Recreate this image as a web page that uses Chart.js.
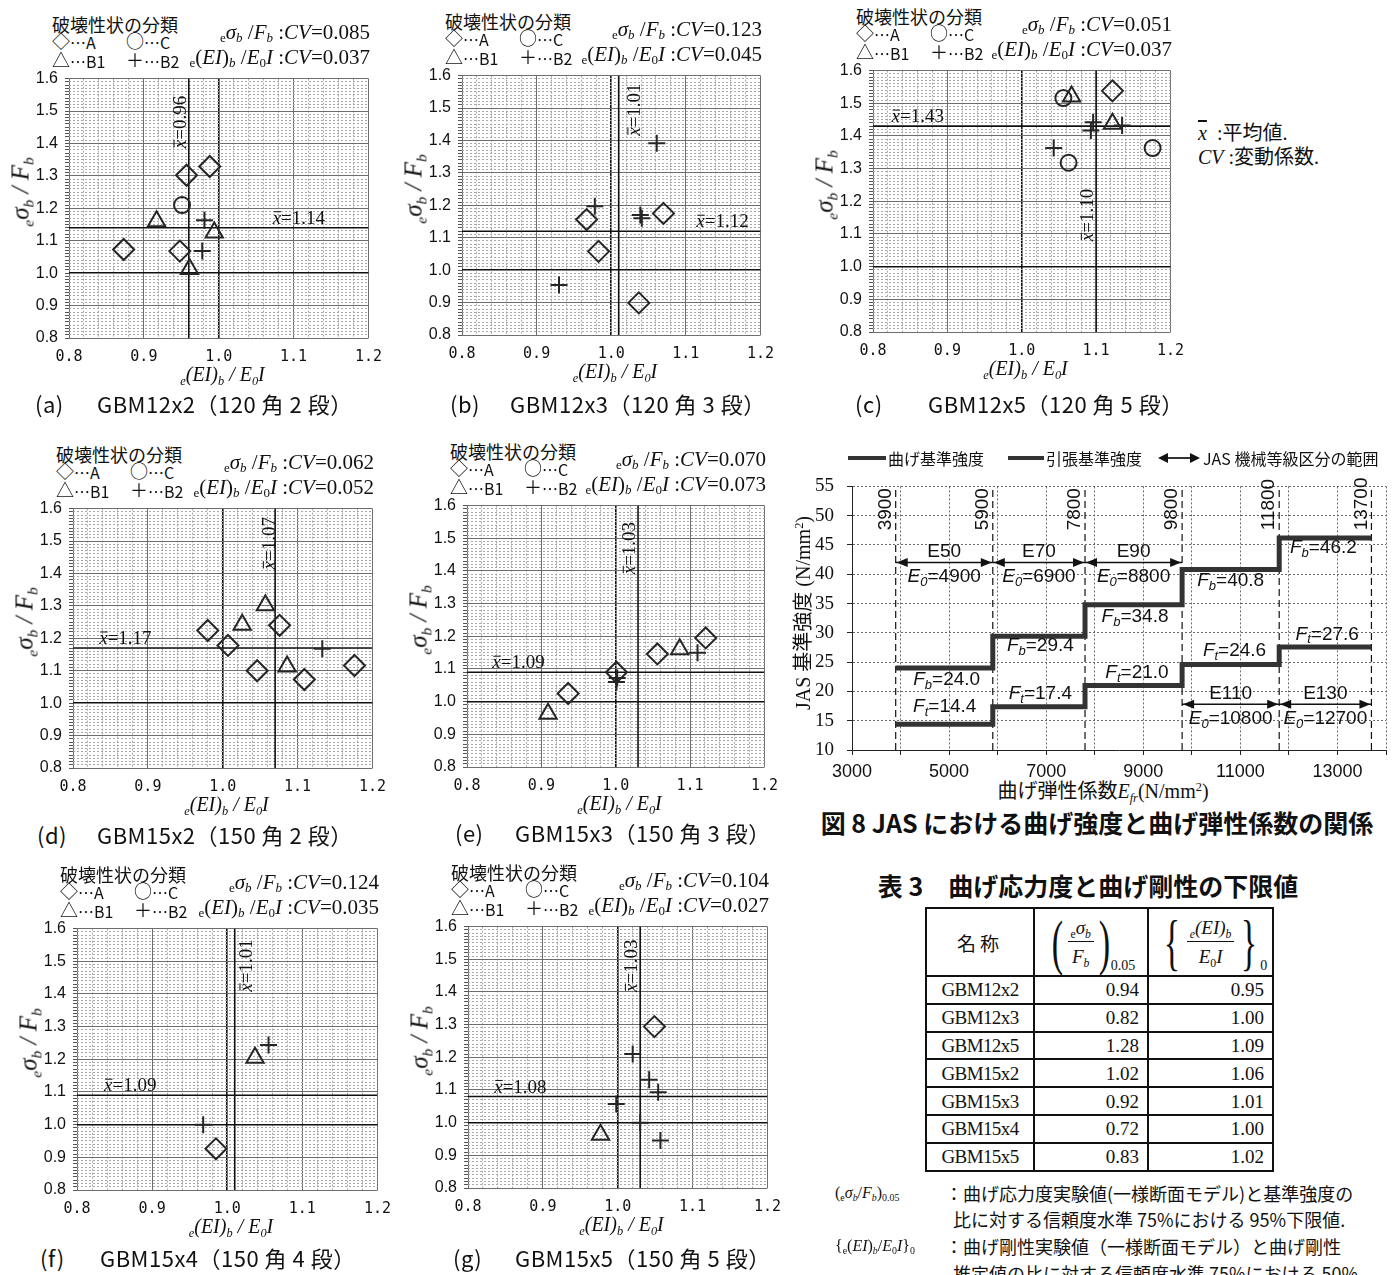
<!DOCTYPE html>
<html lang="ja"><head><meta charset="utf-8">
<title>GBM bending strength / stiffness</title>
<script src="https://cdn.jsdelivr.net/npm/chart.js@4.4.1/dist/chart.umd.min.js"></script>
<style>
html,body{margin:0;padding:0;background:#fff}
body{width:1395px;height:1275px;position:relative;overflow:hidden;color:#111;font-family:"Noto Sans CJK JP","Noto Sans",sans-serif}
.abs{position:absolute;white-space:nowrap;line-height:1}
canvas{position:absolute}
sub{font-size:62%;vertical-align:-0.3em;line-height:0}
sup{font-size:62%;vertical-align:0.55em;line-height:0}
.hdr{font-size:18px}
.leg{font-size:16px}
.leg .sym{font-size:18px;vertical-align:1px}
.cv{font-family:"Liberation Serif","Times New Roman",serif;font-size:21px}
.ytitle{font-family:"Liberation Serif","Times New Roman",serif;font-size:25px;font-style:italic}
.xtitle{font-family:"Liberation Serif","Times New Roman",serif;font-size:20px;font-style:italic}
.cap{font-size:22px;letter-spacing:0.5px}
.note{font-family:"Liberation Serif","Noto Sans CJK JP",serif;font-size:20px}
.f8t{font-size:16px}
.f8ax{font-family:"Liberation Serif","Noto Sans CJK JP",serif;font-size:20px}
.bigcap{font-size:25px;font-weight:bold}
.nl{font-family:"Liberation Serif","Times New Roman",serif;font-size:16px}
.nt{font-size:18px}
#t3{position:absolute;left:925px;top:907px;border-collapse:collapse;table-layout:fixed;width:347px;font-family:"Liberation Serif","Times New Roman",serif;font-size:19px;color:#111}
#t3 td{border:2px solid #111;padding:0 8px;line-height:1}
#t3 td.nm{text-align:center;letter-spacing:-0.6px}
#t3 td.v{text-align:right}
#t3 tr.hd td{text-align:center;height:66px}
.fr{display:inline-flex;align-items:center;font-size:19px}
.bp{font-size:62px;display:inline-block;transform:scaleX(0.55);line-height:1;font-family:"Liberation Serif",serif}
.fx{display:inline-flex;flex-direction:column;align-items:center;font-style:italic}
.fn{border-bottom:1px solid #111;padding:0 3px 4px}
.fd{padding-top:5px}
.fsub{align-self:flex-end;font-size:14px;margin-left:-4px}
</style></head><body>
<script>
// ================= DATA =================
const panelLetters  = ['a','b','c','d','e','f','g'];
const panelNames    = ['GBM12x2','GBM12x3','GBM12x5','GBM15x2','GBM15x3','GBM15x4','GBM15x5'];
const panelSections = ['120 角 2 段','120 角 3 段','120 角 5 段','150 角 2 段','150 角 3 段','150 角 4 段','150 角 5 段'];
const cvStrength    = ['0.085','0.123','0.051','0.062','0.070','0.124','0.104'];
const cvStiffness   = ['0.037','0.045','0.037','0.052','0.073','0.035','0.027'];
const meanStiffness = [0.96, 1.01, 1.10, 1.07, 1.03, 1.01, 1.03];
const meanStrength  = [1.14, 1.12, 1.43, 1.17, 1.09, 1.09, 1.08];
const scatterXRange = [0.8, 1.2];
const scatterYRange = [0.8, 1.6];

// failure mode A (diamond) points per panel  [eEI/E0I, eσb/Fb]
const failA = [
  [[0.873,1.073],[0.957,1.302],[0.988,1.329],[0.948,1.068]],
  [[0.967,1.156],[1.070,1.175],[0.983,1.058],[1.037,0.899]],
  [[1.122,1.538]],
  [[0.980,1.224],[1.007,1.178],[1.076,1.240],[1.046,1.100],[1.109,1.073],[1.176,1.116]],
  [[0.936,1.025],[1.001,1.090],[1.056,1.146],[1.121,1.195]],
  [[0.985,0.926]],
  [[1.049,1.294]]
];
// failure mode C (circle)
const failC = [
  [[0.951,1.210]], [], [[1.056,1.516],[1.063,1.318],[1.176,1.363]], [], [], [], []
];
// failure mode B1 (triangle)
const failB1 = [
  [[0.917,1.160],[0.994,1.125],[0.961,1.013]],
  [],
  [[1.067,1.521],[1.122,1.437]],
  [[1.026,1.242],[1.057,1.302],[1.086,1.113]],
  [[0.909,0.963],[1.086,1.160]],
  [[1.037,1.205]],
  [[0.977,0.963]]
];
// failure mode B2 (plus)
const failB2 = [
  [[0.981,1.163],[0.978,1.068]],
  [[1.061,1.391],[0.978,1.197],[1.039,1.170],[1.041,1.160],[0.930,0.954]],
  [[1.135,1.432],[1.096,1.442],[1.093,1.417],[1.043,1.363]],
  [[1.133,1.168]],
  [[1.002,1.072],[1.001,1.060],[1.110,1.150]],
  [[1.055,1.244],[0.968,1.000]],
  [[1.020,1.210],[1.042,1.131],[1.054,1.093],[0.998,1.057],[1.030,1.000],[1.057,0.945]]
];

// Fig.8 JAS grades
const gradeBounds = [3900, 5900, 7800, 9800, 11800, 13700];
const gradeNames  = ['E50','E70','E90','E110','E130'];
const gradeE0     = ['4900','6900','8800','10800','12700'];
const bendingFb   = [24.0, 29.4, 34.8, 40.8, 46.2];
const tensionFt   = [14.4, 17.4, 21.0, 24.6, 27.6];
const gradeArrowLevel = [42, 42, 42, 17.8, 17.8];
const f8XRange = [3000, 14000];
const f8YRange = [10, 55];

// Table 3
const lowerStrength  = ['0.94','0.82','1.28','1.02','0.92','0.72','0.83'];
const lowerStiffness = ['0.95','1.00','1.09','1.06','1.01','1.00','1.02'];

// ================= LAYOUT (positions / styles) =================
const SERIF = '"Liberation Serif","Times New Roman",serif';
const plotBoxes = [[69,70,376,338],[462,67,768,335],[873,62,1178,332],[73,500,380,768],[467,497,772,767],[77,920,385,1190],[468,918,775,1188]];
// [x of horizontal mean label (data), y of rotated mean label (data), px offset of rotated label]
const meanLabelPos = [[1.072,1.466,-9],[1.114,1.495,15],[0.825,1.158,-9],[0.835,1.493,-6],[0.834,1.47,-9],[0.836,1.487,11],[0.835,1.48,-9]];
const captionPos = [[35,97,403],[450,510,403],[855,928,403],[37,97,834],[455,515,832],[40,100,1257],[453,515,1257]];
const fbLabelAt = [[4950,22.3],[6880,28.1],[8830,33.0],[10800,39.1],[12710,44.8]];
const ftLabelAt = [[4910,17.7],[6880,19.9],[8870,23.5],[10880,27.2],[12790,30.0]];

function place(html, x, y, anchor, cls, rot){
  const d = document.createElement('div');
  d.className = 'abs ' + (cls || '');
  d.innerHTML = html;
  d.style.left = x + 'px'; d.style.top = y + 'px';
  const tx = anchor === 'l' ? '0' : anchor === 'r' ? '-100%' : '-50%';
  d.style.transform = `translate(${tx},-50%)` + (rot ? ` rotate(${rot}deg)` : '');
  document.body.appendChild(d);
  return d;
}
function makeCanvas(left, top, w, h){
  const c = document.createElement('canvas');
  c.width = w; c.height = h;
  c.style.left = left + 'px'; c.style.top = top + 'px';
  c.style.width = w + 'px'; c.style.height = h + 'px';
  document.body.appendChild(c);
  return c;
}
const near = (a, b) => Math.abs(a - b) < 1e-6;
const isMultiple = (v, step) => { const q = v / step; return Math.abs(q - Math.round(q)) < 1e-6; };

function drawXbar(ctx, rest, x0, yBase, size, doDraw){
  ctx.font = `italic ${size}px ${SERIF}`;
  const wx = ctx.measureText('x').width;
  if (doDraw) { ctx.fillText('x', x0, yBase); ctx.fillRect(x0 + 1, yBase - size*0.66, wx - 1, 1); }
  ctx.font = `${size}px ${SERIF}`;
  const wr = ctx.measureText(rest).width;
  if (doDraw) ctx.fillText(rest, x0 + wx, yBase);
  return wx + wr;
}

const meanLabelPlugin = {
  id: 'meanLabels',
  afterDatasetsDraw(chart, args, opts){
    const i = opts.idx; if (i === undefined) return;
    const ctx = chart.ctx, xs = chart.scales.x, ys = chart.scales.y, size = 19;
    ctx.save(); ctx.fillStyle = '#111'; ctx.textAlign = 'left'; ctx.textBaseline = 'alphabetic';
    drawXbar(ctx, '=' + meanStrength[i].toFixed(2), xs.getPixelForValue(meanLabelPos[i][0]), ys.getPixelForValue(meanStrength[i]) - 4, size, true);
    const rest = '=' + meanStiffness[i].toFixed(2);
    const w = drawXbar(ctx, rest, 0, 0, size, false);
    ctx.translate(xs.getPixelForValue(meanStiffness[i]) + meanLabelPos[i][2], ys.getPixelForValue(meanLabelPos[i][1]));
    ctx.rotate(-Math.PI/2);
    drawXbar(ctx, rest, -w/2, size*0.33, size, true);
    ctx.restore();
  }
};

function markerSet(points, style, r){
  return { data: points.map(p => ({x: p[0], y: p[1]})), showLine: false,
    pointStyle: style, pointRadius: r, pointHoverRadius: r, pointBorderWidth: 2, pointHoverBorderWidth: 2,
    pointBorderColor: '#262626', pointBackgroundColor: 'rgba(0,0,0,0)', xAxisID: 'x', yAxisID: 'y', order: 1 };
}
function refLine(pts){
  return { data: pts, showLine: true, borderColor: '#111', borderWidth: 1.6, pointRadius: 0, pointHoverRadius: 0,
    xAxisID: 'x', yAxisID: 'y', order: 5 };
}

function makeScatter(i){
  const [L, T, R, B] = plotBoxes[i];
  const YW = 50, PT = 12, PR = 16, XH = 34;
  const W = YW + (R - L) + PR, H = PT + (B - T) + XH;
  const cv = makeCanvas(L - YW, T - PT, W, H);
  const [x0, x1] = scatterXRange, [y0, y1] = scatterYRange;
  new Chart(cv, {
    type: 'scatter',
    data: { datasets: [
      markerSet(failA[i], 'rectRot', 10.5),
      markerSet(failC[i], 'circle', 8),
      markerSet(failB1[i], 'triangle', 10),
      markerSet(failB2[i], 'cross', 8.5),
      refLine([{x: meanStiffness[i], y: y0}, {x: meanStiffness[i], y: y1}]),
      refLine([{x: x0, y: meanStrength[i]}, {x: x1, y: meanStrength[i]}])
    ]},
    options: {
      responsive: false, animation: false, devicePixelRatio: 1,
      events: [],
      layout: { padding: { top: PT, right: PR, left: 0, bottom: 0 } },
      plugins: { legend: { display: false }, tooltip: { enabled: false }, meanLabels: { idx: i } },
      scales: {
        x: { type: 'linear', position: 'bottom', weight: 1, min: x0, max: x1,
          afterFit: s => { s.height = XH; },
          ticks: { stepSize: 0.1, autoSkip: false, maxRotation: 0, padding: 10, color: '#111',
            font: { family: '"DejaVu Sans Mono",monospace', size: 15 }, callback: v => Number(v).toFixed(1) },
          grid: { drawTicks: false, color: c => near(c.tick.value, 1) ? '#111' : '#6e6e6e',
            lineWidth: c => near(c.tick.value, 1) ? 1.6 : 1 },
          border: { display: false } },
        xm: { type: 'linear', position: 'bottom', weight: 0, min: x0, max: x1,
          afterFit: s => { s.height = 0; },
          ticks: { display: false, stepSize: 0.02, autoSkip: false },
          grid: { drawTicks: false, color: c => isMultiple(c.tick.value, 0.1) ? 'rgba(0,0,0,0)' : '#a8a8a8' },
          border: { display: false, dash: [2, 2] } },
        y: { type: 'linear', position: 'left', weight: 1, min: y0, max: y1,
          afterFit: s => { s.width = YW; },
          ticks: { stepSize: 0.1, autoSkip: false, padding: 11, color: '#111',
            font: { family: '"Liberation Sans",Arial,sans-serif', size: 16 }, callback: v => Number(v).toFixed(1) },
          grid: { drawTicks: false, color: c => near(c.tick.value, 1) ? '#111' : '#6e6e6e',
            lineWidth: c => near(c.tick.value, 1) ? 1.6 : 1 },
          border: { display: false } },
        ym: { type: 'linear', position: 'left', weight: 0, min: y0, max: y1,
          afterFit: s => { s.width = 0; },
          ticks: { display: false, stepSize: 0.01, autoSkip: false },
          grid: { drawTicks: true, tickLength: 4, tickColor: '#555', tickWidth: 1,
            color: c => isMultiple(c.tick.value, 0.1) ? 'rgba(0,0,0,0)' : '#a8a8a8' },
          border: { display: false, dash: [2, 2] } }
      }
    },
    plugins: [meanLabelPlugin]
  });

  // header (legend of failure modes and CVs)
  place('破壊性状の分類', L - 17, T - 46, 'l', 'hdr');
  place('<span class="sym">◇</span>…A', L - 17, T - 30, 'l', 'leg');
  place('<span class="sym">○</span>…C', L + 57, T - 30, 'l', 'leg');
  place('<span class="sym">△</span>…B1', L - 17, T - 11, 'l', 'leg');
  place('<span class="sym">＋</span>…B2', L + 57, T - 11, 'l', 'leg');
  place(`<sub>e</sub><i>σ<sub>b</sub></i> /<i>F<sub>b</sub></i> :<i>CV</i>=${cvStrength[i]}`, R - 6, T - 38, 'r', 'cv');
  place(`<sub>e</sub>(<i>EI</i>)<sub><i>b</i></sub> /<i>E</i><sub>0</sub><i>I</i> :<i>CV</i>=${cvStiffness[i]}`, R - 6, T - 13, 'r', 'cv');
  // axis titles
  place('<sub>e</sub>σ<sub>b</sub> / F<sub>b</sub>', L - 49, (T + B) / 2 - 12, 'c', 'ytitle', -90);
  place('<sub>e</sub>(EI)<sub>b</sub> / E<sub>0</sub>I', (L + R) / 2, B + 36, 'c', 'xtitle');
  // caption
  const [cx1, cx2, cy] = captionPos[i];
  place(`(${panelLetters[i]})`, cx1, cy, 'l', 'cap');
  place(`${panelNames[i]}（${panelSections[i]}）`, cx2, cy, 'l', 'cap');
}
for (let i = 0; i < panelNames.length; i++) makeScatter(i);

// notes to the right of (c)
place('<i style="text-decoration:overline">x</i>&nbsp;&nbsp;:平均値.', 1198, 133, 'l', 'note');
place('<i>CV</i> :変動係数.', 1198, 157, 'l', 'note');

// ================= FIG 8 =================
function stepPoints(vals){
  return gradeBounds.map((b, k) => ({ x: b, y: vals[Math.min(k, vals.length - 1)] }));
}
function drawSubLabel(ctx, base, sub, rest, cx, cy, size){
  const fam = '"Liberation Sans",Arial,sans-serif';
  const fB = `italic ${size}px ${fam}`, fS = `italic ${Math.round(size*0.68)}px ${fam}`, fR = `${size}px ${fam}`;
  ctx.font = fB; const w1 = ctx.measureText(base).width;
  ctx.font = fS; const w2 = ctx.measureText(sub).width;
  ctx.font = fR; const w3 = ctx.measureText(rest).width;
  let x = cx - (w1 + w2 + w3) / 2; const by = cy + size * 0.36;
  ctx.textAlign = 'left'; ctx.textBaseline = 'alphabetic';
  ctx.font = fB; ctx.fillText(base, x, by); x += w1;
  ctx.font = fS; ctx.fillText(sub, x, by + size * 0.2); x += w2;
  ctx.font = fR; ctx.fillText(rest, x, by);
}
const fig8Plugin = {
  id: 'fig8Labels',
  afterDatasetsDraw(chart){
    const ctx = chart.ctx, xs = chart.scales.x, ys = chart.scales.y;
    ctx.save(); ctx.fillStyle = '#111';
    // boundary values (rotated)
    ctx.font = '19px "Liberation Sans",Arial,sans-serif';
    gradeBounds.forEach(b => {
      ctx.save();
      ctx.translate(xs.getPixelForValue(b) - 10, ys.getPixelForValue(47.5));
      ctx.rotate(-Math.PI / 2);
      ctx.textAlign = 'left'; ctx.textBaseline = 'middle';
      ctx.fillText(String(b), 0, 0);
      ctx.restore();
    });
    // arrow heads + grade labels
    gradeNames.forEach((g, k) => {
      const xa = xs.getPixelForValue(gradeBounds[k]), xb = xs.getPixelForValue(gradeBounds[k + 1]);
      const ya = ys.getPixelForValue(gradeArrowLevel[k]);
      ctx.beginPath(); ctx.moveTo(xa + 1, ya); ctx.lineTo(xa + 12, ya - 4.5); ctx.lineTo(xa + 12, ya + 4.5); ctx.closePath(); ctx.fill();
      ctx.beginPath(); ctx.moveTo(xb - 1, ya); ctx.lineTo(xb - 12, ya - 4.5); ctx.lineTo(xb - 12, ya + 4.5); ctx.closePath(); ctx.fill();
      const xm = (xa + xb) / 2;
      ctx.font = '19px "Liberation Sans",Arial,sans-serif'; ctx.textAlign = 'center'; ctx.textBaseline = 'middle';
      ctx.fillText(g, xm, ya - 11);
      drawSubLabel(ctx, 'E', '0', '=' + gradeE0[k], xm, ya + 13, 19);
    });
    bendingFb.forEach((v, k) => drawSubLabel(ctx, 'F', 'b', '=' + v.toFixed(1), xs.getPixelForValue(fbLabelAt[k][0]), ys.getPixelForValue(fbLabelAt[k][1]), 19));
    tensionFt.forEach((v, k) => drawSubLabel(ctx, 'F', 't', '=' + v.toFixed(1), xs.getPixelForValue(ftLabelAt[k][0]), ys.getPixelForValue(ftLabelAt[k][1]), 19));
    ctx.restore();
  }
};
(function makeFig8(){
  const L = 852, T = 476, R = 1386, B = 750;
  const YW = 45, PT = 14, PR = 9, XH = 30;
  const cv = makeCanvas(L - YW, T - PT, YW + (R - L) + PR, PT + (B - T) + XH);
  const datasets = [];
  gradeBounds.forEach(b => datasets.push({ data: [{x: b, y: f8YRange[0]}, {x: b, y: f8YRange[1]}],
    borderColor: '#111', borderWidth: 1.2, borderDash: [7, 4], pointRadius: 0, order: 6 }));
  datasets.push({ data: stepPoints(bendingFb), stepped: 'before', borderColor: '#333', borderWidth: 5, pointRadius: 0, order: 2 });
  datasets.push({ data: stepPoints(tensionFt), stepped: 'before', borderColor: '#333', borderWidth: 5, pointRadius: 0, order: 2 });
  gradeNames.forEach((g, k) => datasets.push({ data: [{x: gradeBounds[k], y: gradeArrowLevel[k]}, {x: gradeBounds[k + 1], y: gradeArrowLevel[k]}],
    borderColor: '#111', borderWidth: 1.6, pointRadius: 0, order: 1 }));
  new Chart(cv, {
    type: 'line',
    data: { datasets },
    options: {
      responsive: false, animation: false, devicePixelRatio: 1, events: [],
      layout: { padding: { top: PT, right: PR, left: 0, bottom: 0 } },
      plugins: { legend: { display: false }, tooltip: { enabled: false } },
      scales: {
        x: { type: 'linear', min: f8XRange[0], max: f8XRange[1], afterFit: s => { s.height = XH; },
          ticks: { stepSize: 1000, autoSkip: false, maxRotation: 0, padding: 6, color: '#111',
            font: { family: '"Liberation Sans",Arial,sans-serif', size: 18 },
            callback: v => (v % 2000 === 1000) ? String(v) : '' },
          grid: { color: '#6a6a6a', lineWidth: 1, drawTicks: true, tickLength: 5, tickColor: '#222' },
          border: { display: true, color: '#222', width: 1, dash: [2, 2] } },
        y: { type: 'linear', min: f8YRange[0], max: f8YRange[1], afterFit: s => { s.width = YW; },
          ticks: { stepSize: 5, padding: 13, color: '#111', font: { family: SERIF, size: 19 } },
          grid: { color: '#6a6a6a', lineWidth: 1, drawTicks: true, tickLength: 5, tickColor: '#222' },
          border: { display: true, color: '#222', width: 1, dash: [2, 2] } }
      }
    },
    plugins: [fig8Plugin]
  });
  // legend
  const bar = (l, t, w, h) => { const d = document.createElement('div'); d.className = 'abs';
    Object.assign(d.style, { left: l + 'px', top: t + 'px', width: w + 'px', height: h + 'px', background: '#333' }); document.body.appendChild(d); };
  bar(848, 456, 38, 4); place('曲げ基準強度', 888, 458, 'l', 'f8t');
  bar(1008, 456, 36, 4); place('引張基準強度', 1046, 458, 'l', 'f8t');
  bar(1166, 457, 26, 2);
  const tri = (l, dir) => { const d = document.createElement('div'); d.className = 'abs';
    Object.assign(d.style, { left: l + 'px', top: '453px', width: 0, height: 0, borderTop: '5px solid transparent', borderBottom: '5px solid transparent' });
    if (dir < 0) d.style.borderRight = '10px solid #111'; else d.style.borderLeft = '10px solid #111';
    document.body.appendChild(d); };
  tri(1158, -1); tri(1190, 1);
  place('JAS 機械等級区分の範囲', 1203, 458, 'l', 'f8t');
  place('JAS 基準強度 (N/mm<sup>2</sup>)', 803, 613, 'c', 'f8ax', -90);
  place('曲げ弾性係数<i>E<sub>fr</sub></i>(N/mm<sup>2</sup>)', 1103, 791, 'c', 'f8ax');
  place('図 8 JAS における曲げ強度と曲げ弾性係数の関係', 1097, 822, 'c', 'bigcap');
})();

// ================= TABLE 3 =================
place('表 3　曲げ応力度と曲げ剛性の下限値', 1088, 885, 'c', 'bigcap');
(function makeTable(){
  const t = document.createElement('table'); t.id = 't3';
  const cg = document.createElement('colgroup');
  [108, 114, 125].forEach(w => { const c = document.createElement('col'); c.style.width = w + 'px'; cg.appendChild(c); });
  t.appendChild(cg);
  const hd = document.createElement('tr'); hd.className = 'hd';
  hd.innerHTML = '<td style="font-family:\'Noto Sans CJK JP\',sans-serif;font-size:19px;letter-spacing:4px">名称</td>' +
    '<td><span class="fr"><span class="bp">(</span><span class="fx"><span class="fn"><sub style="font-style:normal">e</sub>σ<sub>b</sub></span><span class="fd">F<sub>b</sub></span></span><span class="bp">)</span><span class="fsub">0.05</span></span></td>' +
    '<td><span class="fr"><span class="bp">{</span><span class="fx"><span class="fn"><sub>e</sub>(EI)<sub>b</sub></span><span class="fd">E<sub style="font-style:normal">0</sub>I</span></span><span class="bp">}</span><span class="fsub">0</span></span></td>';
  t.appendChild(hd);
  panelNames.forEach((n, k) => {
    const tr = document.createElement('tr'); tr.style.height = '27.8px';
    tr.innerHTML = `<td class="nm">${n}</td><td class="v">${lowerStrength[k]}</td><td class="v">${lowerStiffness[k]}</td>`;
    t.appendChild(tr);
  });
  document.body.appendChild(t);
})();
place('(<sub>e</sub><i>σ<sub>b</sub></i>/<i>F<sub>b</sub></i>)<sub>0.05</sub>', 835, 1193, 'l', 'nl');
place('：曲げ応力度実験値(一様断面モデル)と基準強度の', 945, 1193, 'l', 'nt');
place('比に対する信頼度水準 75%における 95%下限値.', 953, 1219, 'l', 'nt');
place('{<sub>e</sub>(<i>EI</i>)<sub><i>b</i></sub>/<i>E</i><sub>0</sub><i>I</i>}<sub>0</sub>', 835, 1246, 'l', 'nl');
place('：曲げ剛性実験値（一様断面モデル）と曲げ剛性', 945, 1246, 'l', 'nt');
place('推定値の比に対する信頼度水準 75%における 50%', 953, 1273, 'l', 'nt');
</script>
</body></html>
